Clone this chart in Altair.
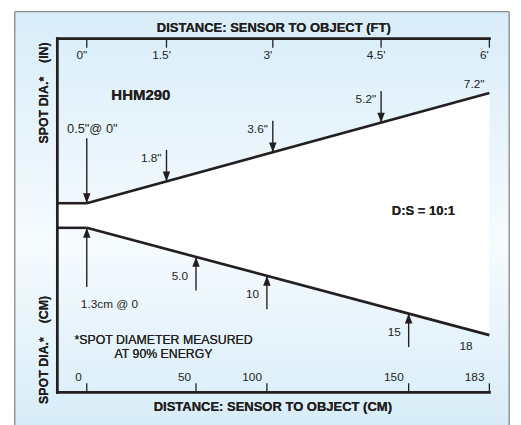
import altair as alt
import pandas as pd

# ---------------- data ----------------
ft_ticks = [0, 1.5, 3, 4.5, 6]
ft_tick_labels = ['0"', "1.5'", "3'", "4.5'", "6'"]
cm_ticks = [0, 50, 100, 150, 183]
cm_tick_labels = ["0", "50", "100", "150", "183"]

upper_dist_ft = [0, 6]          # distance (ft)
upper_spot_in = [0.5, 7.2]      # spot diameter (in)
upper_arrow_ft = [1.5, 3, 4.5]
upper_arrow_in = [1.8, 3.6, 5.2]

lower_dist_cm = [0, 183]        # distance (cm)
lower_spot_cm = [1.3, 18]       # spot diameter (cm)
lower_arrow_cm = [50, 100, 150]
lower_arrow_val = [5.0, 10, 15]
lower_arrow_labels = ["5.0", "10", "15"]

NB = "\u00a0"
model_name = "HHM290"
ratio_text = "D:S = 10:1"
title_top = "DISTANCE: SENSOR TO OBJECT (FT)"
title_bottom = "DISTANCE: SENSOR TO OBJECT (CM)"
ytitle_in = "SPOT DIA.*" + NB * 4 + "(IN)"
ytitle_cm = "SPOT DIA.*" + NB * 4 + "(CM)"
note_lines = ["*SPOT DIAMETER MEASURED", "AT 90% ENERGY"]

# ---------------- layout (schematic, not to scale) ----------------
W, H = 439, 359
INK = "#231f20"
FONT = "Liberation Sans"

x_ft_range = [30, 111, 219, 329, 439]
x_cm_range = [30, 141, 213, 357, 439]
up_apex, up_end = 167, 55
lo_apex, lo_end = 192, 301


def on_line(xr, a, b):
    return a + (b - a) * (xr - x_ft_range[0]) / (x_ft_range[-1] - x_ft_range[0])


y_in_domain = [upper_spot_in[0]] + upper_arrow_in + [upper_spot_in[1]]
y_in_range = [up_apex] + [on_line(v, up_apex, up_end) for v in x_ft_range[1:4]] + [up_end]
y_cm_domain = [lower_spot_cm[0]] + lower_arrow_val + [lower_spot_cm[1]]
y_cm_range = [lo_apex] + [on_line(v, lo_apex, lo_end) for v in x_cm_range[1:4]] + [lo_end]

x_ft = alt.Scale(domain=ft_ticks, range=x_ft_range, nice=False, zero=False)
x_cm = alt.Scale(domain=cm_ticks, range=x_cm_range, nice=False, zero=False)
y_in = alt.Scale(domain=y_in_domain, range=y_in_range, nice=False, zero=False)
y_cm = alt.Scale(domain=y_cm_domain, range=y_cm_range, nice=False, zero=False)

XF = alt.X("d:Q", scale=x_ft, axis=None)
YF = alt.Y("s:Q", scale=y_in, axis=None, stack=False)
XC = alt.X("d:Q", scale=x_cm, axis=None)
YC = alt.Y("s:Q", scale=y_cm, axis=None, stack=False)

DOWN = "M0,0L-0.38,-1L0.38,-1Z"
UP = "M0,0L-0.38,1L0.38,1Z"

# ---------------- tables ----------------
up_line = pd.DataFrame({"d": upper_dist_ft, "s": upper_spot_in})
up_origin = pd.DataFrame({"d": [upper_dist_ft[0]], "s": [upper_spot_in[0]],
                          "label": [f'{upper_spot_in[0]}"@ 0"']})
up_endpt = pd.DataFrame({"d": [upper_dist_ft[1]], "s": [upper_spot_in[1]],
                         "label": [f'{upper_spot_in[1]}"']})
up_arrows = pd.DataFrame({"d": upper_arrow_ft, "s": upper_arrow_in,
                          "label": [f'{v}"' for v in upper_arrow_in]})
ft_tick_df = pd.DataFrame({"d": ft_ticks, "label": ft_tick_labels})

lo_line = pd.DataFrame({"d": lower_dist_cm, "s": lower_spot_cm})
lo_origin = pd.DataFrame({"d": [lower_dist_cm[0]], "s": [lower_spot_cm[0]],
                          "label": [f"{lower_spot_cm[0]}cm @ 0"]})
lo_endpt = pd.DataFrame({"d": [lower_dist_cm[1]], "s": [lower_spot_cm[1]],
                         "label": [f"{lower_spot_cm[1]}"]})
lo_arrows = pd.DataFrame({"d": lower_arrow_cm, "s": lower_arrow_val,
                          "label": lower_arrow_labels})
cm_tick_df = pd.DataFrame({"d": cm_ticks, "label": cm_tick_labels})

# ---------------- background ----------------
grad = alt.LinearGradient(
    gradient="linear",
    stops=[alt.GradientStop(color="#d8edf9", offset=0),
           alt.GradientStop(color="#f6fbfe", offset=0.55),
           alt.GradientStop(color="#d6ecf8", offset=1)],
    x1=0, x2=0, y1=0, y2=1)
bg = alt.Chart(up_line).mark_rect(fill=grad, stroke="#808080", strokeWidth=1).encode(
    x=alt.value(-43), x2=alt.value(459), y=alt.value(-27.5), y2=alt.value(400))

CENTER_UP, CENTER_LO = 186, 174

layers = [bg]

# ----- white cone -----
layers += [
    alt.Chart(up_line).mark_area(color="white").encode(x=XF, y=YF, y2=alt.value(CENTER_UP)),
    alt.Chart(up_origin).mark_rect(color="white").encode(x=XF, x2=alt.value(0), y=YF, y2=alt.value(CENTER_UP)),
    alt.Chart(lo_line).mark_area(color="white").encode(x=XC, y=YC, y2=alt.value(CENTER_LO)),
    alt.Chart(lo_origin).mark_rect(color="white").encode(x=XC, x2=alt.value(0), y=YC, y2=alt.value(CENTER_LO)),
]

LBL = dict(font=FONT, fontSize=12, color=INK, baseline="middle")

# ----- upper (inches / feet) -----
layers += [
    alt.Chart(up_line).mark_line(color=INK, strokeWidth=2.7).encode(x=XF, y=YF),
    alt.Chart(up_origin).mark_rule(color=INK, strokeWidth=2.6).encode(x=XF, x2=alt.value(0), y=YF),
    alt.Chart(up_arrows).mark_rule(color=INK, strokeWidth=1.4, y2Offset=-32).encode(x=XF, y=YF, y2=alt.Y2("s:Q")),
    alt.Chart(up_arrows).mark_point(shape=DOWN, filled=True, size=400, opacity=1, color=INK).encode(x=XF, y=YF),
    alt.Chart(up_arrows).mark_text(align="right", dx=-5, dy=-24, **LBL).encode(x=XF, y=YF, text="label:N"),
    alt.Chart(up_origin).mark_rule(color=INK, strokeWidth=1.4, y2Offset=-66).encode(x=XF, y=YF, y2=alt.Y2("s:Q")),
    alt.Chart(up_origin).mark_point(shape=DOWN, filled=True, size=400, opacity=1, color=INK).encode(x=XF, y=YF),
    alt.Chart(up_origin).mark_text(align="left", dx=-20, dy=-75, font=FONT, fontSize=13, color=INK, baseline="middle").encode(x=XF, y=YF, text="label:N"),
    alt.Chart(up_endpt).mark_text(align="right", dx=-5, dy=-9, **LBL).encode(x=XF, y=YF, text="label:N"),
    alt.Chart(ft_tick_df).mark_rule(color=INK, strokeWidth=1.3).encode(x=XF, y=alt.value(0), y2=alt.value(9)),
    alt.Chart(ft_tick_df).mark_text(align="center", dx=-5, **LBL).encode(x=XF, y=alt.value(17), text="label:N"),
]

# ----- lower (cm) -----
layers += [
    alt.Chart(lo_line).mark_line(color=INK, strokeWidth=2.7).encode(x=XC, y=YC),
    alt.Chart(lo_origin).mark_rule(color=INK, strokeWidth=2.6).encode(x=XC, x2=alt.value(0), y=YC),
    alt.Chart(lo_arrows).mark_rule(color=INK, strokeWidth=1.4, y2Offset=34).encode(x=XC, y=YC, y2=alt.Y2("s:Q")),
    alt.Chart(lo_arrows).mark_point(shape=UP, filled=True, size=400, opacity=1, color=INK).encode(x=XC, y=YC),
    alt.Chart(lo_arrows).mark_text(align="right", dx=-8, dy=19, **LBL).encode(x=XC, y=YC, text="label:N"),
    alt.Chart(lo_origin).mark_rule(color=INK, strokeWidth=1.4, y2Offset=60).encode(x=XC, y=YC, y2=alt.Y2("s:Q")),
    alt.Chart(lo_origin).mark_point(shape=UP, filled=True, size=400, opacity=1, color=INK).encode(x=XC, y=YC),
    alt.Chart(lo_origin).mark_text(align="left", dx=-6, dy=77, **LBL).encode(x=XC, y=YC, text="label:N"),
    alt.Chart(lo_endpt).mark_text(align="right", dx=-17, dy=11, **LBL).encode(x=XC, y=YC, text="label:N"),
    alt.Chart(cm_tick_df).mark_rule(color=INK, strokeWidth=1.3).encode(x=XC, y=alt.value(H - 9), y2=alt.value(H)),
    alt.Chart(cm_tick_df).mark_text(align="right", dx=-5, **LBL).encode(x=XC, y=alt.value(H - 15), text="label:N"),
]

# ----- frame and annotations -----
frame = alt.Chart(up_line).mark_rule(color=INK, strokeWidth=2.5, strokeCap="square")
layers += [
    frame.encode(x=alt.value(0), x2=alt.value(W), y=alt.value(0)),
    frame.encode(x=alt.value(0), x2=alt.value(W), y=alt.value(H)),
    frame.encode(x=alt.value(0), y=alt.value(0), y2=alt.value(H)),
]


def note(text, x, y, size, bold=False, angle=0, align="center"):
    return alt.Chart(up_line).mark_text(
        text=text, align=align, baseline="middle", font=FONT, fontSize=size,
        fontWeight="bold" if bold else "normal", angle=angle, color=INK
    ).encode(x=alt.value(x), y=alt.value(y))


layers += [
    note(title_top, 220, -11, 13.2, bold=True),
    note(title_bottom, 219, 374, 13.2, bold=True),
    note(ytitle_in, -13, 55, 12.6, bold=True, angle=270),
    note(ytitle_cm, -13, 316, 12.6, bold=True, angle=270),
    note(model_name, 55, 57, 15.2, bold=True, align="left"),
    note(ratio_text, 372, 175, 13.2, bold=True),
    note(note_lines[0], 108, 306, 12.5),
    note(note_lines[1], 108, 320.5, 12.5),
]

chart = alt.layer(*layers).resolve_scale(x="independent", y="independent").properties(
    width=W, height=H,
    padding={"left": 50, "top": 28, "right": 24, "bottom": 30},
    autosize=alt.AutoSizeParams(type="none"),
).configure_view(strokeWidth=0)

chart.save("out.html", embed_options={"renderer": "svg", "actions": False})
